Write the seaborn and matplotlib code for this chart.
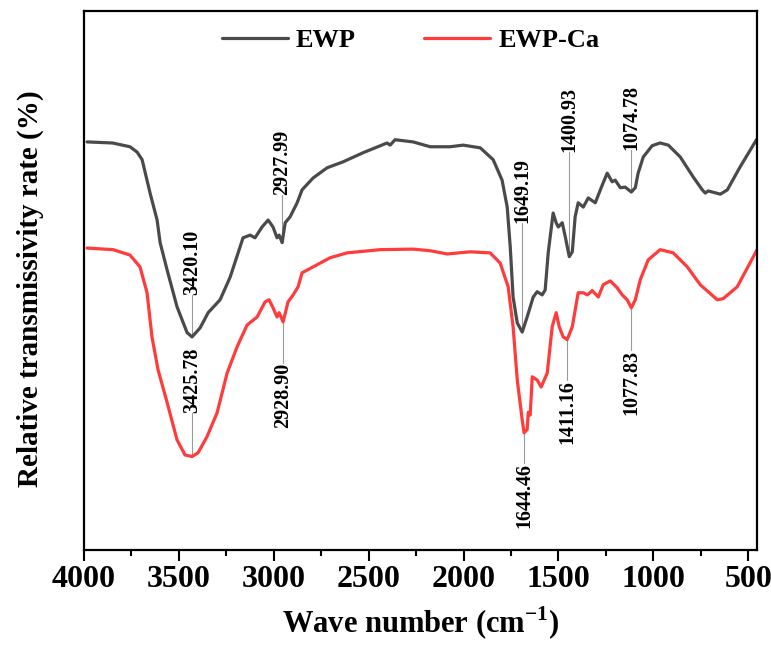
import matplotlib
matplotlib.use("Agg")
import matplotlib.pyplot as plt
import matplotlib.ticker as mticker
import pandas as pd
import seaborn as sns

# FTIR spectra (transmittance in arbitrary %)
ewp_wn = [3984, 3850, 3758, 3720, 3694, 3652, 3615, 3599, 3562, 3510, 3457, 3431,
          3388, 3346, 3283, 3230, 3162, 3125, 3099, 3062, 3030, 3004, 2983, 2972,
          2956, 2940, 2914, 2877, 2851, 2793, 2719, 2635, 2529, 2403, 2387, 2361,
          2266, 2176, 2071, 2002, 1912, 1844, 1797, 1770, 1754, 1739, 1717, 1691,
          1665, 1633, 1612, 1586, 1570, 1554, 1528, 1512, 1501, 1480, 1464, 1443,
          1427, 1412, 1396, 1369, 1343, 1306, 1269, 1243, 1217, 1201, 1174, 1148,
          1116, 1095, 1080, 1053, 1006, 964, 921, 858, 790, 742, 726, 711, 647, 610,
          542, 453]
ewp_t = [75.7, 75.5, 74.8, 73.8, 72.4, 66.2, 61.2, 57.0, 51.9, 45.1, 40.3, 39.5,
         41.2, 44.0, 46.4, 50.6, 57.9, 58.4, 57.9, 59.9, 61.2, 59.9, 57.9, 58.4,
         57.0, 60.7, 61.8, 64.4, 66.8, 69.0, 70.9, 72.0, 73.7, 75.5, 75.1, 76.1,
         75.7, 74.8, 74.8, 75.1, 74.6, 72.4, 68.6, 63.6, 56.2, 46.9, 42.1, 40.4,
         43.2, 46.9, 47.9, 47.3, 48.2, 55.1, 62.5, 60.7, 59.9, 60.7, 58.1, 54.4,
         55.3, 61.8, 64.4, 63.6, 65.3, 64.4, 67.7, 69.9, 68.3, 68.6, 67.2, 67.3,
         66.4, 67.2, 69.9, 72.9, 75.0, 75.5, 75.1, 72.9, 69.2, 66.8, 66.2, 66.6,
         66.0, 66.8, 71.1, 76.3]

ca_wn = [3984, 3847, 3758, 3705, 3668, 3642, 3610, 3562, 3510, 3468, 3431, 3399,
         3352, 3299, 3246, 3193, 3141, 3088, 3046, 3025, 3004, 2983, 2972, 2951,
         2925, 2898, 2872, 2851, 2793, 2703, 2614, 2440, 2266, 2176, 2086, 1965,
         1860, 1807, 1765, 1739, 1717, 1691, 1681, 1665, 1659, 1649, 1638, 1612,
         1591, 1559, 1533, 1512, 1496, 1475, 1454, 1427, 1396, 1369, 1348, 1322,
         1290, 1264, 1227, 1190, 1164, 1138, 1116, 1095, 1069, 1027, 964, 895,
         821, 753, 663, 632, 558, 453]
ca_t = [56.0, 55.7, 54.7, 52.5, 47.7, 39.5, 33.4, 27.3, 20.4, 17.6, 17.3, 18.0,
        21.0, 25.4, 32.8, 37.7, 41.7, 43.2, 46.0, 46.4, 44.9, 43.2, 44.0, 42.3,
        46.0, 47.3, 48.8, 51.4, 52.5, 54.2, 55.1, 55.7, 55.8, 55.5, 54.9, 55.3,
        55.1, 53.2, 48.8, 41.4, 31.5, 24.1, 21.7, 22.3, 25.5, 25.0, 32.1, 31.5,
        30.2, 32.8, 41.4, 44.0, 41.4, 39.5, 39.0, 41.4, 47.7, 47.7, 47.3, 48.1,
        46.9, 49.2, 49.9, 48.6, 47.3, 46.4, 44.9, 46.4, 50.1, 53.8, 55.7, 55.1,
        52.5, 49.2, 46.4, 46.6, 48.8, 55.7]

# peak labels: position on axis, text, dip level, end of leader line
peak_wn = [3431, 3431, 2956, 2951, 1691, 1681, 1443, 1454, 1116, 1116]
peak_lbl = ["3420.10", "3425.78", "2927.99", "2928.90", "1649.19", "1644.46",
            "1400.93", "1411.16", "1074.78", "1077.83"]
peak_tip = [39.5, 17.3, 57.0, 42.3, 40.4, 21.7, 54.4, 39.0, 66.4, 44.9]
peak_end = [47.3, 25.4, 65.9, 34.7, 60.7, 16.1, 73.8, 31.5, 74.2, 37.1]

df = pd.concat([
    pd.DataFrame({"wn": ewp_wn, "t": ewp_t, "sample": "EWP"}),
    pd.DataFrame({"wn": ca_wn, "t": ca_t, "sample": "EWP-Ca"}),
])

sns.set_theme(style="ticks")
plt.rcParams["font.family"] = ["Liberation Serif", "DejaVu Serif"]
plt.rcParams["font.weight"] = "bold"
plt.rcParams["text.color"] = "black"
plt.rcParams["axes.labelcolor"] = "black"
plt.rcParams["xtick.color"] = "black"
plt.rcParams["mathtext.fontset"] = "custom"
plt.rcParams["mathtext.rm"] = "Liberation Serif:bold"
plt.rcParams["mathtext.bf"] = "Liberation Serif:bold"

fig = plt.figure(figsize=(7.71, 6.46), dpi=100)
plt.subplots_adjust(left=0.109, right=0.982, bottom=0.149, top=0.983)
ax = plt.gca()

sns.lineplot(data=df, x="wn", y="t", hue="sample", estimator=None, sort=False,
             palette={"EWP": "#4a4a4a", "EWP-Ca": "#ff3b3b"}, linewidth=2.3, ax=ax)

for w, lbl, tip, end in zip(peak_wn, peak_lbl, peak_tip, peak_end):
    ax.plot([w, w], [tip, end], color="#9a9a9a", lw=0.8, zorder=1)
    va = "bottom" if end > tip else "top"
    ax.text(w, end, lbl, rotation=90, ha="center", va=va, fontsize=14.5,
            fontweight="bold", color="black")

ax.set_xlim(4000, 453)
ax.set_ylim(0, 100)
ax.set_yticks([])
ax.xaxis.set_major_locator(mticker.MultipleLocator(500))
ax.xaxis.set_minor_locator(mticker.MultipleLocator(250))
ax.tick_params(axis="x", which="major", length=8, width=1.5, labelsize=23, pad=3)
ax.tick_params(axis="x", which="minor", length=4.5, width=1.5)
for lab in ax.get_xticklabels():
    lab.set_fontweight("bold")
for s in ax.spines.values():
    s.set_linewidth(1.6)
    s.set_color("black")

ax.set_xlabel("Wave number (cm$^{-1}$)", fontsize=22, fontweight="bold", labelpad=8)
ax.set_ylabel("Relative transmissivity rate (%)", fontsize=21, fontweight="bold")
ax.yaxis.set_label_coords(-0.06, 0.485)

ax.legend(title=None, loc="center", bbox_to_anchor=(0.485, 0.946), ncol=2,
          frameon=False, handlelength=2.5, handletextpad=0.3,
          columnspacing=2.6, prop={"weight": "bold", "size": 19})

plt.savefig("out.png", dpi=100)
